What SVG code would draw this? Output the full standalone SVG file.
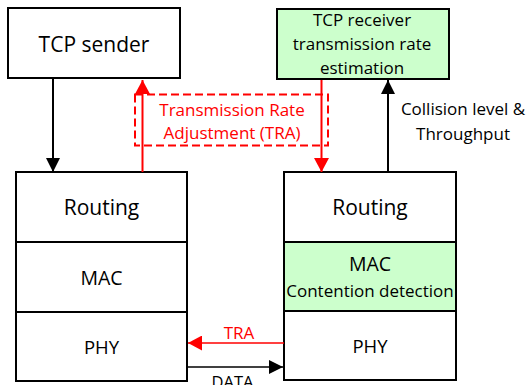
<svg xmlns="http://www.w3.org/2000/svg" width="527" height="385" viewBox="0 0 527 385">
<defs>
<style>
.box{fill:#ffffff;stroke:#000000;stroke-width:2}
.green{fill:#ccffcc;stroke:#000000;stroke-width:2}
text{font-family:"Open Sans","Liberation Sans",sans-serif;text-anchor:middle;fill:#000000}
.red{fill:#ff0000}
.blk{stroke:#000000;stroke-width:2;fill:none}
.rl{stroke:#ff0000;stroke-width:2;fill:none}
</style>
<marker id="ab" markerUnits="userSpaceOnUse" markerWidth="14" markerHeight="14" refX="14" refY="7" orient="auto"><path d="M0,0 L14,7 L0,14 z" fill="#000000"/></marker>
<marker id="ar" markerUnits="userSpaceOnUse" markerWidth="14" markerHeight="15" refX="14" refY="7.5" orient="auto"><path d="M0,0 L14,7.5 L0,15 z" fill="#ff0000"/></marker>
</defs>
<g id="tcp-sender">
<rect class="box" x="8" y="8" width="172" height="70"/>
<text x="94" y="52" font-size="21">TCP sender</text>
</g>
<g id="tcp-receiver">
<rect class="green" x="277" y="9" width="172" height="70"/>
<text x="362" y="26" font-size="17">TCP receiver</text>
<text x="362" y="50" font-size="17">transmission rate</text>
<text x="362" y="74" font-size="17">estimation</text>
</g>
<g id="routing-left">
<rect class="box" x="16" y="172" width="171" height="70"/>
<text x="101.5" y="215" font-size="21">Routing</text>
</g>
<g id="mac-left">
<rect class="box" x="16" y="242" width="171" height="70"/>
<text x="101.5" y="285" font-size="19.5">MAC</text>
</g>
<g id="phy-left">
<rect class="box" x="16" y="312" width="171" height="69"/>
<text x="101.5" y="354" font-size="18.5">PHY</text>
</g>
<g id="routing-right">
<rect class="box" x="284" y="172" width="172" height="70"/>
<text x="370" y="215" font-size="21">Routing</text>
</g>
<g id="mac-right">
<rect class="green" x="284" y="242" width="172" height="69"/>
<text x="370" y="271" font-size="19.5">MAC</text>
<text x="370" y="297" font-size="17">Contention detection</text>
</g>
<g id="phy-right">
<rect class="box" x="284" y="311" width="172" height="69"/>
<text x="370" y="353" font-size="18.5">PHY</text>
</g>
<g id="tra-box">
<rect x="135" y="94.5" width="193" height="51" fill="none" stroke="#ff0000" stroke-width="2" stroke-dasharray="8,4"/>
<text class="red" x="232" y="116" font-size="17">Transmission Rate</text>
<text class="red" x="232" y="138.5" font-size="17">Adjustment (TRA)</text>
</g>
<g id="connectors">
<line class="blk" x1="53" y1="79" x2="53" y2="172" marker-end="url(#ab)"/>
<line class="rl" x1="142.5" y1="172" x2="142.5" y2="80" marker-end="url(#ar)"/>
<line class="rl" x1="321.5" y1="80" x2="321.5" y2="172" marker-end="url(#ar)"/>
<line class="blk" x1="388" y1="172" x2="388" y2="80" marker-end="url(#ab)"/>
<line stroke="#ff0000" stroke-width="1.5" x1="284" y1="343" x2="188" y2="343" marker-end="url(#ar)"/>
<line stroke="#000000" stroke-width="1.5" x1="188" y1="367" x2="283" y2="367" marker-end="url(#ab)"/>
<text x="463" y="115" font-size="17">Collision level &amp;</text>
<text x="463" y="139.5" font-size="17">Throughput</text>
<text class="red" x="239" y="338.5" font-size="17">TRA</text>
<text x="232.5" y="388" font-size="16.5">DATA</text>
</g>
</svg>
